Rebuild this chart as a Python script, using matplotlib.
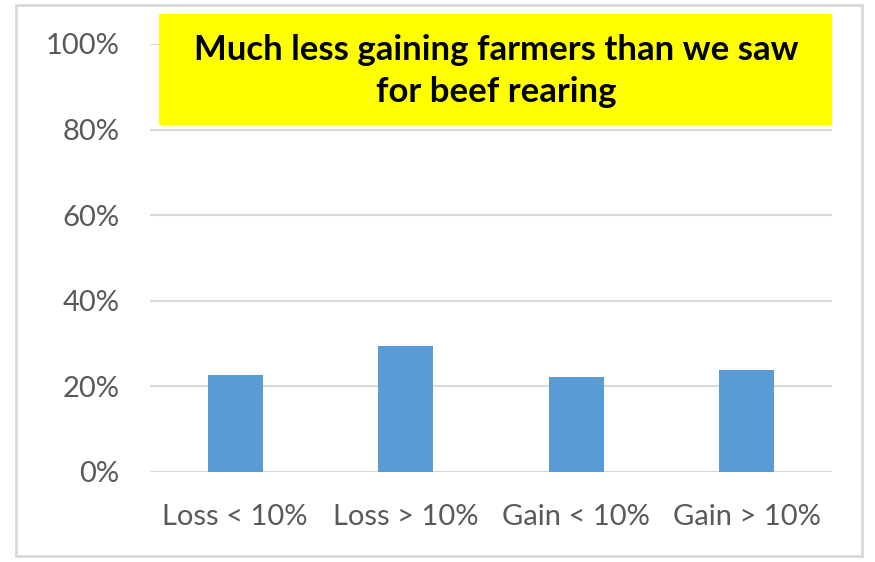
import matplotlib.pyplot as plt
from matplotlib.patches import Rectangle
from matplotlib.ticker import PercentFormatter

categories = ['Loss < 10%', 'Loss > 10%', 'Gain < 10%', 'Gain > 10%']
shares = [22.7, 29.5, 22.2, 23.8]
y_ticks = [0, 20, 40, 60, 80, 100]
headline = 'Much less gaining farmers than we saw\nfor beef rearing'

plt.rcParams['font.family'] = ['Lato', 'DejaVu Sans']

W, H = 875, 562
fig = plt.figure(figsize=(W / 100, H / 100), dpi=100)

# chart frame
fig.patches.append(Rectangle((16 / W, 1 - 556 / H), (862 - 16) / W, (556 - 5) / H,
                             transform=fig.transFigure, fill=False,
                             edgecolor='#d9d9d9', linewidth=2))

ax = fig.add_axes([150 / W, 1 - 472 / H, (832 - 150) / W, (472 - 44) / H])
ax.bar(range(len(categories)), shares, width=0.32, color='#5b9bd5', zorder=3)
ax.set_xlim(-0.5, len(categories) - 0.5)
ax.set_ylim(0, 100)
ax.set_yticks(y_ticks)
ax.yaxis.set_major_formatter(PercentFormatter(decimals=0))
ax.set_xticks(range(len(categories)))
ax.set_xticklabels(categories)
ax.grid(axis='y', color='#d9d9d9', linewidth=1.5, zorder=0)
for s in ax.spines.values():
    s.set_visible(False)
ax.tick_params(length=0, labelsize=21, labelcolor='#595959')
ax.tick_params(axis='y', pad=22)
ax.tick_params(axis='x', pad=23)

# yellow headline box
fig.patches.append(Rectangle((159 / W, 1 - 125 / H), (832 - 159) / W, (125 - 14) / H,
                             transform=fig.transFigure, facecolor='#ffff00',
                             edgecolor='none', zorder=5))
fig.text(496 / W, 1 - 71 / H, headline, ha='center', va='center',
         fontsize=25, fontweight='bold', color='black', linespacing=1.4, zorder=6)

fig.savefig('out.png', dpi=100)
